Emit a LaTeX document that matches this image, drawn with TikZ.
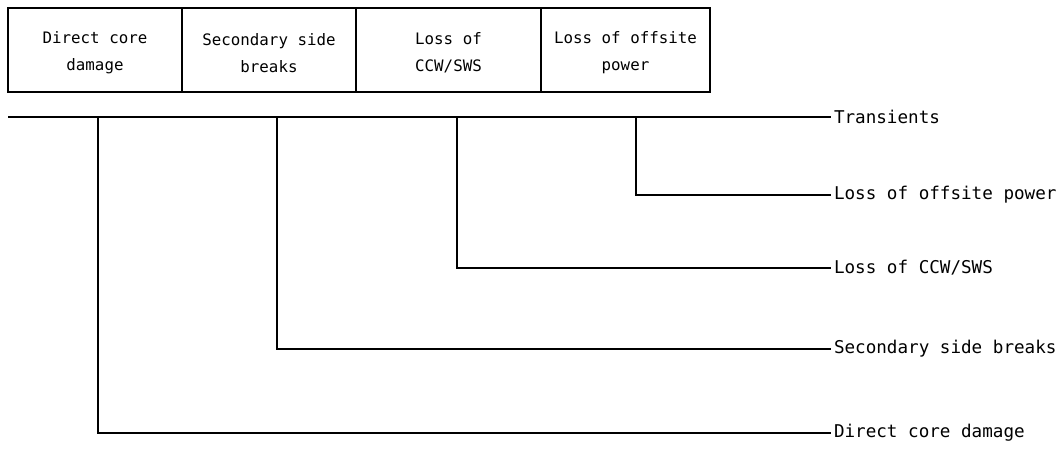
\documentclass[tikz,border=0pt]{standalone}
\usepackage{fontspec}
\setmonofont{DejaVu Sans Mono}
\begin{document}
\begin{tikzpicture}[x=1pt,y=-1pt,line width=2pt,
  font=\ttfamily\fontsize{17.6}{26}\selectfont,
  groupbox/.style={draw,minimum height=84pt,inner sep=0pt},
  grouptext/.style={inner sep=0pt,align=center,font=\ttfamily\fontsize{15.8}{27}\selectfont},
  evlabel/.style={anchor=west,inner xsep=2pt,inner ysep=0pt}]
  \useasboundingbox (0,0) rectangle (1061,448);

  % event groups
  \node[groupbox,minimum width=174pt] (gdcd) at (95,50) {};
  \node[groupbox,minimum width=174pt] (gssb) at (269,50) {};
  \node[groupbox,minimum width=185pt] (gccw) at (448.5,50) {};
  \node[groupbox,minimum width=169pt] (glop) at (625.5,50) {};

  \node[grouptext] (tdcd) at ([yshift=-3pt]gdcd.center) {Direct core\\damage};
  \node[grouptext] (tssb) at ([yshift=-3pt]gssb.center) {Secondary side\\breaks};
  \node[grouptext] (tccw) at ([yshift=-3pt]gccw.center) {Loss of\\CCW/SWS};
  \node[grouptext] (tlop) at ([yshift=-3pt]glop.center) {Loss of offsite\\power};

  % end states
  \node[evlabel] (ltr)  at (831,117) {Transients};
  \node[evlabel] (llop) at (831,195) {Loss of offsite power};
  \node[evlabel] (lccw) at (831,268) {Loss of CCW/SWS};
  \node[evlabel] (lssb) at (831,349) {Secondary side breaks};
  \node[evlabel] (ldcd) at (831,433) {Direct core damage};

  \coordinate (start) at (8,117);
  \coordinate (bdcd) at (98,117);
  \coordinate (bssb) at (277,117);
  \coordinate (bccw) at (457,117);
  \coordinate (blop) at (636,117);

  \draw (start) -- (ltr.west);
  \draw (blop) |- (llop.west);
  \draw (bccw) |- (lccw.west);
  \draw (bssb) |- (lssb.west);
  \draw (bdcd) |- (ldcd.west);

\end{tikzpicture}
\end{document}
